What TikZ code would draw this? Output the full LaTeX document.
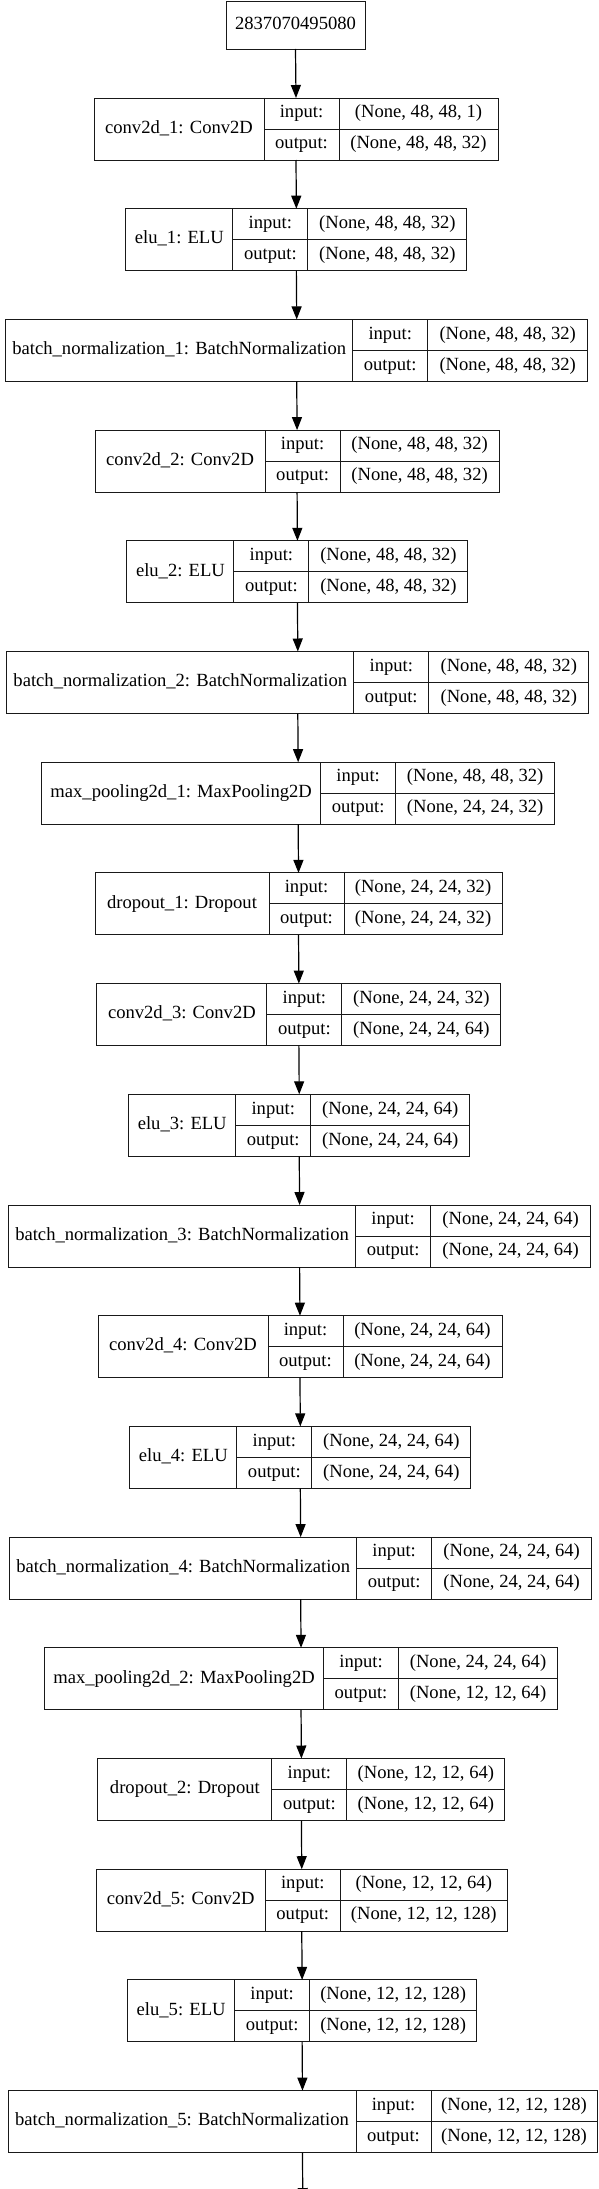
\documentclass[tikz,border=0pt]{standalone}
\usepackage{fontspec}
\setmainfont{Liberation Serif}
\usetikzlibrary{arrows.meta}
\tikzset{
  layerbox/.style={draw=black!90, line width=0.9pt, inner sep=0pt, outer sep=0pt},
  cellline/.style={draw=black!90, line width=0.9pt},
  txt/.style={inner sep=0pt, text height=12.5pt, text depth=4pt, font=\fontsize{18.6}{22}\selectfont},
  arrowline/.style={draw=black, line width=1.2pt, -{Triangle[length=13pt,width=10pt]}},
}
\newcommand\nnlayer[7]{%
  \pgfmathsetmacro\ltop{98+110.7*(#2-1)}%
  \pgfmathsetmacro\lw{#3+75+#4}%
  \pgfmathsetmacro\lleft{296+0.36*(#2-1)-\lw/2}%
  \pgfmathsetmacro\lsa{\lleft+#3}%
  \pgfmathsetmacro\lsb{\lsa+75}%
  \pgfmathsetmacro\lright{\lleft+\lw}%
  \pgfmathsetmacro\lmid{\ltop+31}%
  \pgfmathsetmacro\lbot{\ltop+62}%
  \node[layerbox, minimum width=\lw pt, minimum height=62pt, anchor=north west] (#1) at (\lleft,\ltop) {};
  \draw[cellline] (\lsa,\ltop) -- (\lsa,\lbot) (\lsb,\ltop) -- (\lsb,\lbot) (\lsa,\lmid) -- (\lright,\lmid);
  \node[txt] (#1-l) at ({(\lleft+\lsa)/2},{\ltop+31}) {#5};
  \node[txt] (#1-i) at ({(\lsa+\lsb)/2},{\ltop+15.5}) {input:};
  \node[txt] (#1-o) at ({(\lsa+\lsb)/2},{\ltop+46.5}) {output:};
  \node[txt] (#1-iv) at ({(\lsb+\lright)/2},{\ltop+15.5}) {#6};
  \node[txt] (#1-ov) at ({(\lsb+\lright)/2},{\ltop+46.5}) {#7};
}
\begin{document}
\begin{tikzpicture}[x=1pt,y=-1pt]
\useasboundingbox (0,0) rectangle (598,2189);
\fill[white] (0,0) rectangle (598,2189);
\clip (0,0) rectangle (598,2189);
\node[layerbox, txt, minimum width=139pt, minimum height=48pt, text height=12.5pt, text depth=4pt] (input) at (295.5,25) {2837070495080};
\nnlayer{c1}{1}{170}{159}{conv2d\_1: Conv2D}{(None, 48, 48, 1)}{(None, 48, 48, 32)}
\nnlayer{e1}{2}{107}{159}{elu\_1: ELU}{(None, 48, 48, 32)}{(None, 48, 48, 32)}
\nnlayer{b1}{3}{347}{160}{batch\_normalization\_1: BatchNormalization}{(None, 48, 48, 32)}{(None, 48, 48, 32)}
\nnlayer{c2}{4}{170}{159}{conv2d\_2: Conv2D}{(None, 48, 48, 32)}{(None, 48, 48, 32)}
\nnlayer{e2}{5}{107}{159}{elu\_2: ELU}{(None, 48, 48, 32)}{(None, 48, 48, 32)}
\nnlayer{b2}{6}{347}{160}{batch\_normalization\_2: BatchNormalization}{(None, 48, 48, 32)}{(None, 48, 48, 32)}
\nnlayer{m1}{7}{279}{159}{max\_pooling2d\_1: MaxPooling2D}{(None, 48, 48, 32)}{(None, 24, 24, 32)}
\nnlayer{d1}{8}{174}{158}{dropout\_1: Dropout}{(None, 24, 24, 32)}{(None, 24, 24, 32)}
\nnlayer{c3}{9}{170}{159}{conv2d\_3: Conv2D}{(None, 24, 24, 32)}{(None, 24, 24, 64)}
\nnlayer{e3}{10}{107}{159}{elu\_3: ELU}{(None, 24, 24, 64)}{(None, 24, 24, 64)}
\nnlayer{b3}{11}{347}{160}{batch\_normalization\_3: BatchNormalization}{(None, 24, 24, 64)}{(None, 24, 24, 64)}
\nnlayer{c4}{12}{170}{159}{conv2d\_4: Conv2D}{(None, 24, 24, 64)}{(None, 24, 24, 64)}
\nnlayer{e4}{13}{107}{159}{elu\_4: ELU}{(None, 24, 24, 64)}{(None, 24, 24, 64)}
\nnlayer{b4}{14}{347}{160}{batch\_normalization\_4: BatchNormalization}{(None, 24, 24, 64)}{(None, 24, 24, 64)}
\nnlayer{m2}{15}{279}{159}{max\_pooling2d\_2: MaxPooling2D}{(None, 24, 24, 64)}{(None, 12, 12, 64)}
\nnlayer{d2}{16}{174}{158}{dropout\_2: Dropout}{(None, 12, 12, 64)}{(None, 12, 12, 64)}
\nnlayer{c5}{17}{169}{167}{conv2d\_5: Conv2D}{(None, 12, 12, 64)}{(None, 12, 12, 128)}
\nnlayer{e5}{18}{107}{167}{elu\_5: ELU}{(None, 12, 12, 128)}{(None, 12, 12, 128)}
\nnlayer{b5}{19}{348}{166}{batch\_normalization\_5: BatchNormalization}{(None, 12, 12, 128)}{(None, 12, 12, 128)}
\coordinate (nxt) at (302.8,2201);
\foreach \a/\b in {input/c1,c1/e1,e1/b1,b1/c2,c2/e2,e2/b2,b2/m1,m1/d1,d1/c3,c3/e3,e3/b3,b3/c4,c4/e4,e4/b4,b4/m2,m2/d2,d2/c5,c5/e5,e5/b5,b5/nxt}
  \draw[arrowline] (\a.south) -- (\b.north);
\end{tikzpicture}
\end{document}
